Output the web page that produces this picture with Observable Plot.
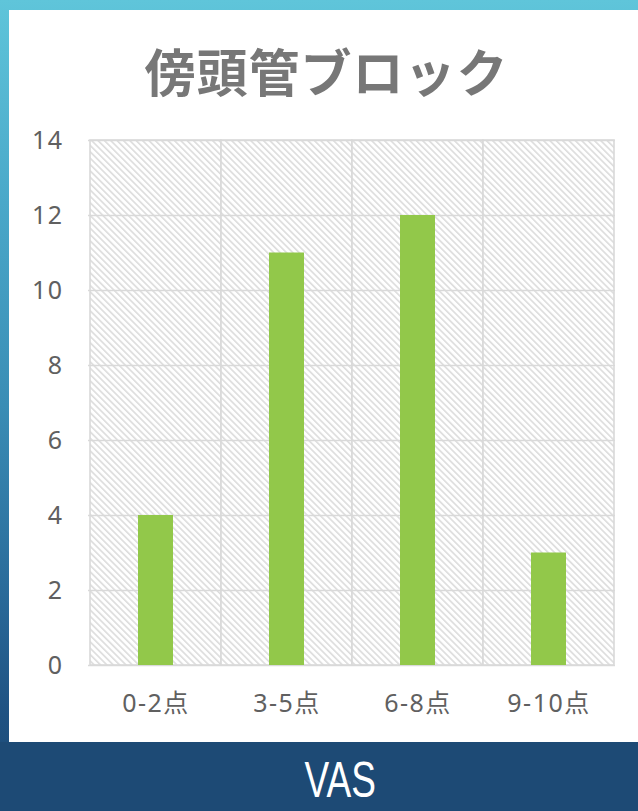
<!DOCTYPE html>
<html>
<head>
<meta charset="utf-8">
<script src="https://cdn.jsdelivr.net/npm/d3@7"></script>
<script src="https://cdn.jsdelivr.net/npm/@observablehq/plot@0.6"></script>
<style>
  html, body { margin: 0; padding: 0; }
  body {
    width: 638px; height: 811px; position: relative; overflow: hidden;
    background: linear-gradient(180deg, #5fc5da 0%, #4aa8c9 25%, #3a8db5 50%, #2a6c9b 72%, #1f5282 88%, #1c4872 100%);
  }
  #panel {
    position: absolute; left: 9px; top: 10px; width: 629px; height: 732px; background: #ffffff;
  }
  #band {
    position: absolute; left: 0; top: 742px; width: 638px; height: 69px; background: #1d4a75;
  }
  #title {
    position: absolute; left: 0; top: 29px; width: 629px; text-align: center;
    font-family: "Noto Sans CJK JP", sans-serif; font-weight: 700; font-size: 51px; line-height: 62px;
    color: #777777; letter-spacing: 1px; padding-left: 6px; box-sizing: border-box;
  }
  #chart { position: absolute; left: 0; top: 100px; }
  #vas {
    position: absolute; left: 0; top: 750px; width: 680px; height: 60px; text-align: center;
    font-family: "Liberation Sans", sans-serif; font-size: 50px; line-height: 60px; color: #ffffff;
  }
  #vas span { display: inline-block; transform: scaleX(0.74); }
</style>
</head>
<body>
<div id="panel">
  <div id="title">傍頭管ブロック</div>
  <div id="chart"></div>
</div>
<div id="band"></div>
<div id="vas"><span>VAS</span></div>
<script>
const categories = ["0-2点", "3-5点", "6-8点", "9-10点"];
const counts = [4, 11, 12, 3];
const yTicks = [0, 2, 4, 6, 8, 10, 12, 14];

const data = categories.map((c, i) => ({category: c, count: counts[i]}));
const gridColor = "#d9d9d9";

const chart = Plot.plot({
  width: 629,
  height: 615,
  marginLeft: 79,
  marginRight: 23,
  marginTop: 30,
  marginBottom: 60,
  style: {fontFamily: "'Noto Sans', 'Noto Sans CJK JP', sans-serif", fontSize: "25px", color: "#606060", background: "transparent", letterSpacing: "1.5px"},
  x: {domain: categories, padding: 0, label: null, tickSize: 0, tickPadding: 29},
  y: {domain: [0, 14], ticks: yTicks, label: null, tickSize: 0, tickPadding: 25},
  marks: [
    Plot.cell(categories, {x: d => d, fill: "url(#hatch)", stroke: gridColor, strokeWidth: 1.6}),
    Plot.ruleY(yTicks, {stroke: gridColor, strokeWidth: 1.6}),
    Plot.barY(data, {x: "category", y: "count", fill: "#92c84a", insetLeft: 48, insetRight: 48})
  ]
});

// hatch pattern for the plot background
const svgNS = "http://www.w3.org/2000/svg";
const defs = document.createElementNS(svgNS, "defs");
const pattern = document.createElementNS(svgNS, "pattern");
pattern.setAttribute("id", "hatch");
pattern.setAttribute("patternUnits", "userSpaceOnUse");
pattern.setAttribute("width", "4.5");
pattern.setAttribute("height", "4.5");
pattern.setAttribute("patternTransform", "rotate(-45)");
const bg = document.createElementNS(svgNS, "rect");
bg.setAttribute("width", "4.5"); bg.setAttribute("height", "4.5"); bg.setAttribute("fill", "#ffffff");
const stripe = document.createElementNS(svgNS, "rect");
stripe.setAttribute("x", "0"); stripe.setAttribute("y", "0");
stripe.setAttribute("width", "1.6"); stripe.setAttribute("height", "4.5"); stripe.setAttribute("fill", "#dcdcdc");
pattern.appendChild(bg); pattern.appendChild(stripe);
defs.appendChild(pattern);
chart.insertBefore(defs, chart.firstChild);

document.getElementById("chart").appendChild(chart);
</script>
</body>
</html>
